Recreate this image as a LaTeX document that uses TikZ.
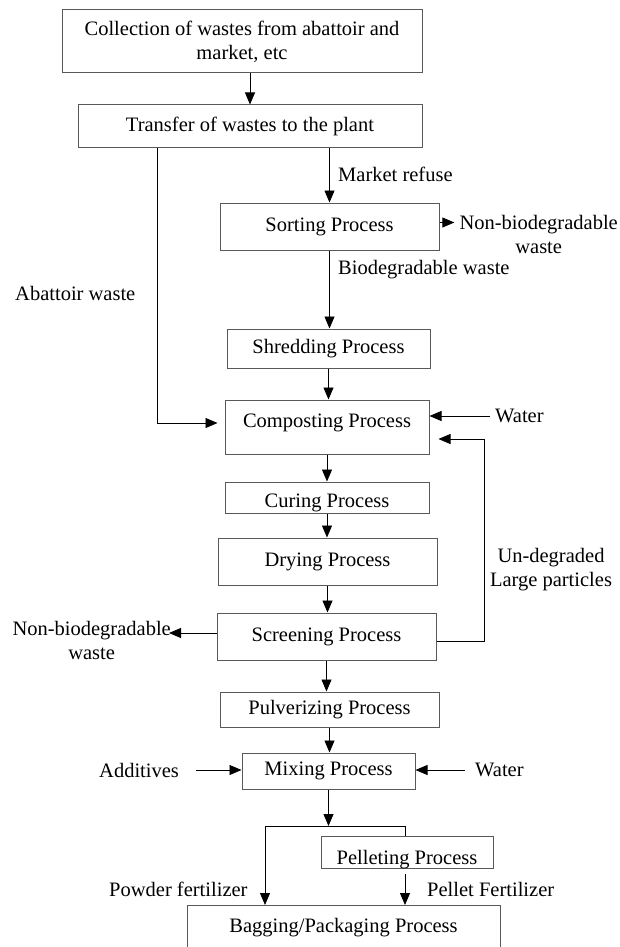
\documentclass[tikz,border=0pt]{standalone}
\usepackage{fontspec}
\setmainfont{Liberation Serif}
\usetikzlibrary{arrows.meta,calc}

\begin{document}
\begin{tikzpicture}[x=1pt, y=-1pt,
    every node/.style={font=\fontsize{20.5}{24}\selectfont},
    procbox/.style={draw=black!65, line width=1pt, inner sep=0pt},
    lbl/.style={inner sep=0pt},
    arr/.style={-{Triangle[width=10pt,length=12pt]}, line width=0.8pt},
    ln/.style={line width=0.8pt}]
    \useasboundingbox (0,0) rectangle (620,947);

    % Collection and transfer of the wastes
    \node[procbox, minimum width=360pt, minimum height=63pt, align=center] (collect) at (242,41.5) {Collection of wastes from abattoir and\\market, etc};
    \node[procbox, minimum width=344pt, minimum height=42pt] (transfer) at (250,126) {Transfer of wastes to the plant};
    \draw[arr] (collect.south -| transfer) -- (transfer.north);

    % Process boxes down the middle
    \node[procbox, minimum width=219pt, minimum height=47pt] (sorting) at (329.5,226.5) {Sorting Process};
    \node[procbox, minimum width=203pt, minimum height=39pt] (shred) at (328.5,348.5) {Shredding Process};
    \node[procbox, minimum width=204pt, text height=27pt, text depth=27pt] (compost) at (327,427) {Composting Process};
    \node[procbox, minimum width=204pt, text height=25pt, text depth=6pt] (cure) at (327,497.5) {Curing Process};
    \node[procbox, minimum width=219pt, minimum height=47pt] (dry) at (327.5,561.5) {Drying Process};
    \node[procbox, minimum width=219pt, minimum height=47pt] (screen) at (326.5,636.5) {Screening Process};
    \node[procbox, minimum width=219pt, minimum height=35pt] (pulv) at (329.5,709.5) {Pulverizing Process};
    \node[procbox, minimum width=173pt, minimum height=36pt] (mix) at (328.5,771) {Mixing Process};
    \node[procbox, minimum width=172pt, text height=28pt, text depth=4pt] (pellet) at (407,852) {Pelleting Process};
    \node[procbox, minimum width=313pt, minimum height=44pt, anchor=north] (bagging) at (343.5,905) {Bagging/Packaging Process};

    % Side labels
    \node[lbl, anchor=west] (mref) at (338,174) {Market refuse};
    \node[lbl, anchor=west] (biow) at (338,270) {Biodegradable waste};
    \node[lbl, anchor=west] (abw) at (15,293) {Abattoir waste};
    \node[lbl, anchor=north east, align=center] (nonbioA) at (618,215) {Non-biodegradable\\waste};
    \node[lbl, anchor=west] (waterA) at (495,416) {Water};
    \node[lbl, anchor=north, align=center] (undeg) at (551,548) {Un-degraded\\Large particles};
    \node[lbl, anchor=north east, align=center] (nonbioB) at (171,621) {Non-biodegradable\\waste};
    \node[lbl, anchor=west] (add) at (99,770) {Additives};
    \node[lbl, anchor=west] (waterB) at (475,770) {Water};
    \node[lbl, anchor=west] (powder) at (109,889) {Powder fertilizer};
    \node[lbl, anchor=west] (pelfert) at (427,889) {Pellet Fertilizer};

    % Corners of the bent connectors
    \coordinate (abat) at (157,423);
    \coordinate (fb) at (484,439);
    \coordinate (splitL) at (265,826);
    \coordinate (splitR) at (405,826);

    % Main flow
    \draw[arr] (transfer.south -| sorting) -- (sorting.north);
    \draw[arr] (sorting.south) -- (sorting.south |- shred.north);
    \draw[arr] (shred.south) -- (shred.south |- compost.north);
    \draw[arr] (compost.south) -- (compost.south |- cure.north);
    \draw[arr] (cure.south) -- (cure.south |- dry.north);
    \draw[arr] (dry.south) -- (dry.south |- screen.north);
    \draw[arr] (screen.south) -- (screen.south |- pulv.north);
    \draw[arr] (pulv.south) -- (pulv.south |- mix.north);
    \draw[arr] (mix.south) -- (mix.south |- splitL);

    % Abattoir waste goes straight to composting
    \draw[arr, shorten >=7pt] (transfer.south -| abat) -- (abat) -- (abat -| compost.west);

    % Inputs and rejects
    \draw[arr, shorten >=5pt] ([yshift=4pt]sorting.east) -- ([yshift=4pt]sorting.east -| nonbioA.west);
    \draw[arr, shorten <=5pt] (waterA.west) -- (waterA.west -| compost.east);
    \draw[arr, shorten >=9pt] ([yshift=-4.5pt]screen.east) -| (fb) -- (fb -| compost.east);
    \draw[arr, shorten >=-2pt] ([yshift=3.5pt]screen.west) -- ([yshift=3.5pt]screen.west -| nonbioB.east);
    \draw[arr, shorten <=17pt] (add.east) -- (add.east -| mix.west);
    \draw[arr, shorten <=10pt] (waterB.west) -- (waterB.west -| mix.east);

    % Powder and pellet branches
    \draw[ln] (splitL) -- (splitR) -- (splitR |- pellet.north);
    \draw[arr] (splitL) -- (splitL |- bagging.north);
    \draw[arr] ($(splitR |- pellet.south)+(0,5)$) -- (splitR |- bagging.north);
\end{tikzpicture}
\end{document}
